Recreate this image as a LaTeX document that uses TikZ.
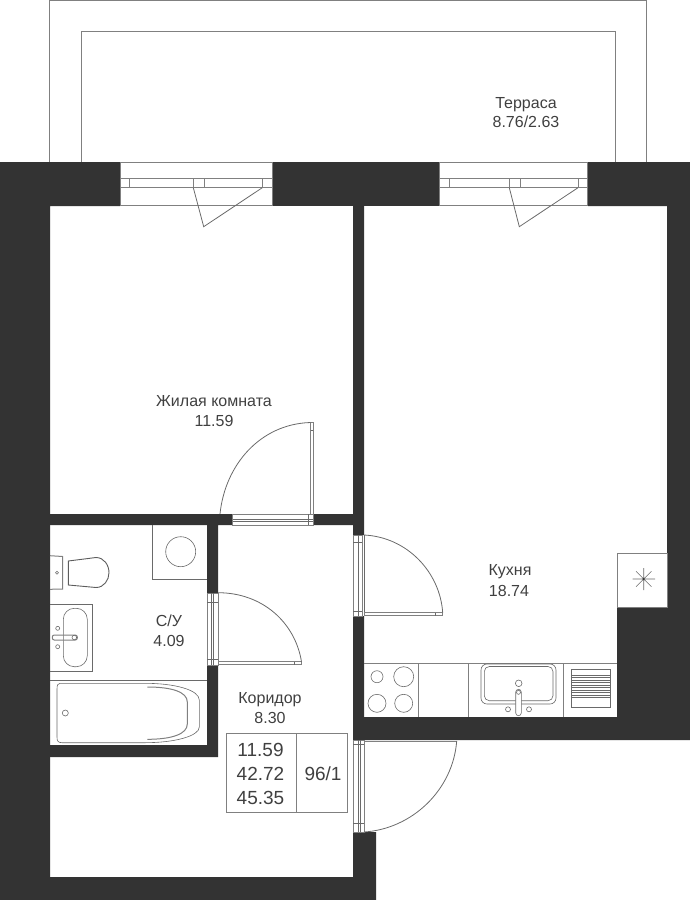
\documentclass[tikz,border=0pt]{standalone}
\usepackage{fontspec}
\setmainfont{Liberation Sans}
\definecolor{wallc}{HTML}{333333}
\definecolor{linec}{HTML}{6A6A6A}
\definecolor{textc}{HTML}{404040}
\tikzset{
  wall/.style={fill=wallc,draw=none},
  ln/.style={draw=linec,line width=0.8pt,fill=none},
  thin ln/.style={draw=linec,line width=0.6pt,fill=none},
  lite/.style={draw=linec!85,line width=1pt,fill=none},
  lbl/.style={text=textc,font=\fontsize{16}{19}\selectfont,inner sep=0pt,anchor=center},
  tbl/.style={text=textc,font=\fontsize{19}{22}\selectfont,inner sep=0pt,anchor=center}
}
\begin{document}
\begin{tikzpicture}[x=1pt,y=-1pt]
\useasboundingbox (0,0) rectangle (690,900);
% terrace
\draw[lite] (49.5,162) -- (49.5,0.5) -- (646.7,0.5) -- (646.7,162);
\draw[lite] (81.3,162) -- (81.3,31.5) -- (615.5,31.5) -- (615.5,162);
% walls
\fill[wall] (0,162) -- (120,162) -- (120,206) -- (50,206) -- (50,877) -- (353,877) -- (353,832) -- (376,832) -- (376,900) -- (0,900) -- cycle;
\fill[wall] (272,162) rectangle (440,206);
\fill[wall] (588,162) -- (690,162) -- (690,740) -- (353,740) -- (353,616) -- (364,616) -- (364,717) -- (617,717) -- (617,607) -- (667,607) -- (667,206) -- (588,206) -- cycle;
\fill[wall] (353,206) -- (364,206) -- (364,535) -- (353,535) -- (353,525) -- (313.3,525) -- (313.3,514) -- (353,514) -- cycle;
\fill[wall] (50,514) -- (232.7,514) -- (232.7,525) -- (218,525) -- (218,593) -- (207,593) -- (207,525) -- (50,525) -- cycle;
\fill[wall] (207,665) -- (218,665) -- (218,757) -- (50,757) -- (50,745) -- (207,745) -- cycle;
% windows
\draw[lite] (120,162.3) -- (272,162.3) (120,205.7) -- (272,205.7) (120,178.3) -- (272,178.3) (120,187.7) -- (272,187.7);
\draw[lite] (120,162.3) -- (120,205.7) (272,162.3) -- (272,205.7);
\draw[lite] (129.3,178.3) -- (129.3,187.7) (193.3,178.3) -- (193.3,187.7) (204.3,178.3) -- (204.3,187.7) (262.3,178.3) -- (262.3,187.7);
\draw[ln] (193.3,187.7) -- (203.7,226.7) -- (262.3,187.7);
\draw[lite] (439.3,162.3) -- (587.5,162.3) (439.3,205.7) -- (587.5,205.7) (439.3,178.3) -- (587.5,178.3) (439.3,187.7) -- (587.5,187.7);
\draw[lite] (439.3,162.3) -- (439.3,205.7) (587.5,162.3) -- (587.5,205.7);
\draw[lite] (449,178.3) -- (449,187.7) (509.3,178.3) -- (509.3,187.7) (520.3,178.3) -- (520.3,187.7) (578,178.3) -- (578,187.7);
\draw[ln] (509.3,187.7) -- (519.3,226.7) -- (578,187.7);
% door: room
\draw[lite] (232.7,514.3) rectangle (313.3,525);
\draw[thin ln] (232.7,519.3) -- (313.3,519.3) (232.7,521) -- (313.3,521) (308.5,514.3) -- (308.5,525);
\draw[lite] (310.5,422.5) rectangle (313.3,514);
\draw[thin ln] (310.5,430) -- (313.3,430);
\draw[ln] (310.5,422.5) .. controls (260,424) and (225,465) .. (220,514);
% door: bath
\draw[lite] (207,593) rectangle (218,665);
\draw[thin ln] (211.7,593) -- (211.7,665) (213.3,593) -- (213.3,665) (207,602.7) -- (218,602.7) (207,659.3) -- (218,659.3);
\draw[lite] (218,661.7) rectangle (301.5,664.7);
\draw[thin ln] (294,661.7) -- (294,664.7);
\draw[ln] (218,592.7) .. controls (262,592.7) and (295,622) .. (301.5,661.7);
% door: kitchen
\draw[lite] (353.3,535) rectangle (362,616);
\draw[thin ln] (358,535) -- (358,616) (353.3,542.7) -- (362,542.7) (353.3,611.7) -- (362,611.7) (364,535) -- (364,616);
\draw[lite] (364,612.7) rectangle (442.7,615.7);
\draw[thin ln] (435,612.7) -- (435,615.7);
\draw[ln] (364,535) .. controls (407,537) and (440,572) .. (442.7,612.7);
% door: entrance
\draw[lite] (353.3,740) rectangle (364,832);
\draw[thin ln] (358,740) -- (358,832) (360,740) -- (360,832) (353.3,744) -- (364,744) (353.3,823) -- (364,823);
\draw[lite] (364,741) -- (456.7,741);
\draw[ln] (456.7,741) .. controls (453,790) and (412,829) .. (364,832);
% table
\draw[lite] (226.7,733.7) rectangle (347.7,812.3) (296,733.7) -- (296,812.3);
% vent
\draw[lite] (617,553.3) rectangle (667,607);
\draw[thin ln] (632.5,579) -- (655,579) (643.7,568) -- (643.7,590) (636,571.3) -- (651.4,586.7) (636,586.7) -- (651.4,571.3);
\fill[wallc] (643.7,579) circle[radius=1pt];
% counter
\draw[lite] (364,663.3) -- (617,663.3) (418,663.3) -- (418,717) (468.7,663.3) -- (468.7,717) (563.3,663.3) -- (563.3,717);
\draw[thin ln] (377,676.7) circle[radius=6pt] (403.7,676.7) circle[radius=10pt] (377,703.3) circle[radius=9pt] (403.7,703.3) circle[radius=9pt];
\draw[thin ln,rounded corners=6pt] (481,664) rectangle (556,704);
\draw[thin ln,rounded corners=5pt] (484.3,666.5) rectangle (553,700.7);
\draw[thin ln] (518.7,683.3) circle[radius=3.3pt] (508,709.3) circle[radius=2.5pt] (529,709.3) circle[radius=2.5pt];
\draw[thin ln,fill=white,rounded corners=2.8pt] (515.7,689.3) rectangle (521.3,715.7);
\draw[thin ln] (518.5,692.3) circle[radius=2pt];
\draw[thin ln] (571.7,669.3) rectangle (610.7,707.3);
\foreach \yy in {675,677.5,680,682.5,685,687.5,690,692.5,695,697.5}{\draw[thin ln] (571.7,\yy) -- (610.7,\yy);}
% bathroom fittings
\draw[thin ln] (152.3,525) -- (152.3,579.3) -- (207,579.3);
\draw[thin ln] (180.7,551.7) circle[radius=15pt];
\draw[lite] (50,555.7) -- (62.7,556.5) -- (62.7,589) -- (50,589.3);
\draw[thin ln] (57,572.7) circle[radius=1.5pt];
\draw[draw=wallc!80,line width=0.9pt] (68.3,561) -- (96,557.5) .. controls (104,557.5) and (109,565) .. (109,572.7) .. controls (109,580) and (104,587.5) .. (96,587.5) -- (68.3,585) -- cycle;
\draw[thin ln] (50,604.3) -- (92,604.3) -- (92,671.3) -- (50,671.3);
\draw[thin ln,rounded corners=11pt] (63.3,608.3) rectangle (87.3,666.7);
\draw[thin ln] (57.7,628.3) circle[radius=2pt] (57.7,646.7) circle[radius=2pt];
\draw[lite,rounded corners=2pt] (52.3,635) rectangle (77.3,640);
\draw[thin ln] (74.3,637.5) circle[radius=2.3pt];
\draw[thin ln] (50,680.3) -- (207,680.3);
\draw[thin ln] (60,683.3) -- (145,683.3) .. controls (175,683.3) and (199.3,690) .. (199.3,700) -- (199.3,727) .. controls (199.3,736) and (175,742.7) .. (145,742.7) -- (62,742.7) .. controls (58,742.7) and (57,741) .. (57,737) -- (57,689) .. controls (57,685) and (58,683.3) .. (60,683.3) -- cycle;
\draw[lite] (147.3,687) .. controls (172,687) and (187.3,692) .. (187.3,702) -- (187.3,724) .. controls (187.3,734) and (172,739.3) .. (147.3,739.3);
\draw[thin ln] (65.3,713) circle[radius=3pt];
% labels
\node[lbl] (terrace) at (526,104.5) {Терраса};
\node[lbl] (terracearea) at (526,122) {8.76/2.63};
\node[lbl] (room) at (214,401.5) {Жилая комната};
\node[lbl] (roomarea) at (214,421) {11.59};
\node[lbl] (kitchen) at (510,572) {Кухня};
\node[lbl] (kitchenarea) at (509,591) {18.74};
\node[lbl] (bath) at (169,620.5) {С/У};
\node[lbl] (batharea) at (169,641) {4.09};
\node[lbl] (corridor) at (270,700) {Коридор};
\node[lbl] (corridorarea) at (270,718) {8.30};
\node[tbl] (t1) at (260.5,750) {11.59};
\node[tbl] (t2) at (260.5,773.5) {42.72};
\node[tbl] (t3) at (260.5,798) {45.35};
\node[tbl] (t4) at (323,773.5) {96/1};
\end{tikzpicture}
\end{document}
